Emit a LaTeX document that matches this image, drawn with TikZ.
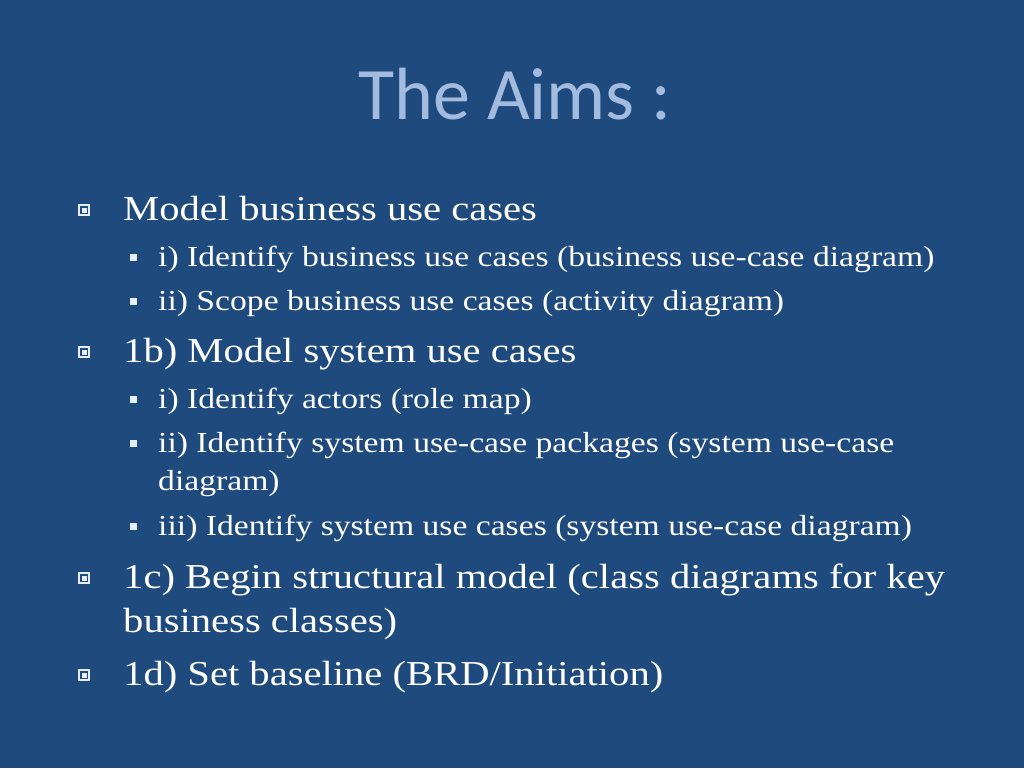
\documentclass[tikz,border=0pt]{standalone}
\usepackage{fontspec}
\setmainfont[FakeStretch=1.16]{Liberation Serif}
\newfontfamily\titlefont{Carlito}
\definecolor{slidebg}{HTML}{1F4A7E}
\definecolor{titleblue}{HTML}{A3BBDF}
\definecolor{bullblue}{HTML}{E8EEF6}
\begin{document}
\begin{tikzpicture}[x=1pt, y=-1pt,
    lvlone/.style={anchor=base west, text=white, inner sep=0pt, font=\fontsize{35}{40}\selectfont},
    lvltwo/.style={anchor=base west, text=white, inner sep=0pt, font=\fontsize{29}{32}\selectfont},
    bigbullet/.style={draw=bullblue, line width=1.3pt, minimum size=10pt, inner sep=0pt},
    smallbullet/.style={fill=bullblue, minimum size=7pt, inner sep=0pt}]
    \fill[slidebg] (0,0) rectangle (1024,768);
    \node[anchor=base, text=titleblue, font=\titlefont\fontsize{74}{80}\selectfont] (title) at (515,119) {The Aims :};
    % first level items
    \node[lvlone] (aone) at (123,220) {Model business use cases};
    \node[lvlone] (atwo) at (123,362) {1b) Model system use cases};
    \node[lvlone] (athree) at (123,588) {1c) Begin structural model (class diagrams for key};
    \node[lvlone] (athreeb) at (123,632) {business classes)};
    \node[lvlone] (afour) at (123,685) {1d) Set baseline (BRD/Initiation)};
    % second level items
    \node[lvltwo] (bone) at (158,266) {i) Identify business use cases (business use-case diagram)};
    \node[lvltwo] (btwo) at (158,310) {ii) Scope business use cases (activity diagram)};
    \node[lvltwo] (bthree) at (158,408) {i) Identify actors (role map)};
    \node[lvltwo] (bfour) at (158,452) {ii) Identify system use-case packages (system use-case};
    \node[lvltwo] (bfourb) at (158,490) {diagram)};
    \node[lvltwo] (bfive) at (158,535) {iii) Identify system use cases (system use-case diagram)};
    % bullets
    \foreach \yy in {210,352,578,675} {
        \node[bigbullet] at (84,\yy) {};
        \fill[bullblue] (81.5,\yy-2.5) rectangle (86.5,\yy+2.5);
    }
    \foreach \yy in {257,301,399,443,526}
        \node[smallbullet] at (133,\yy) {};
\end{tikzpicture}
\end{document}
